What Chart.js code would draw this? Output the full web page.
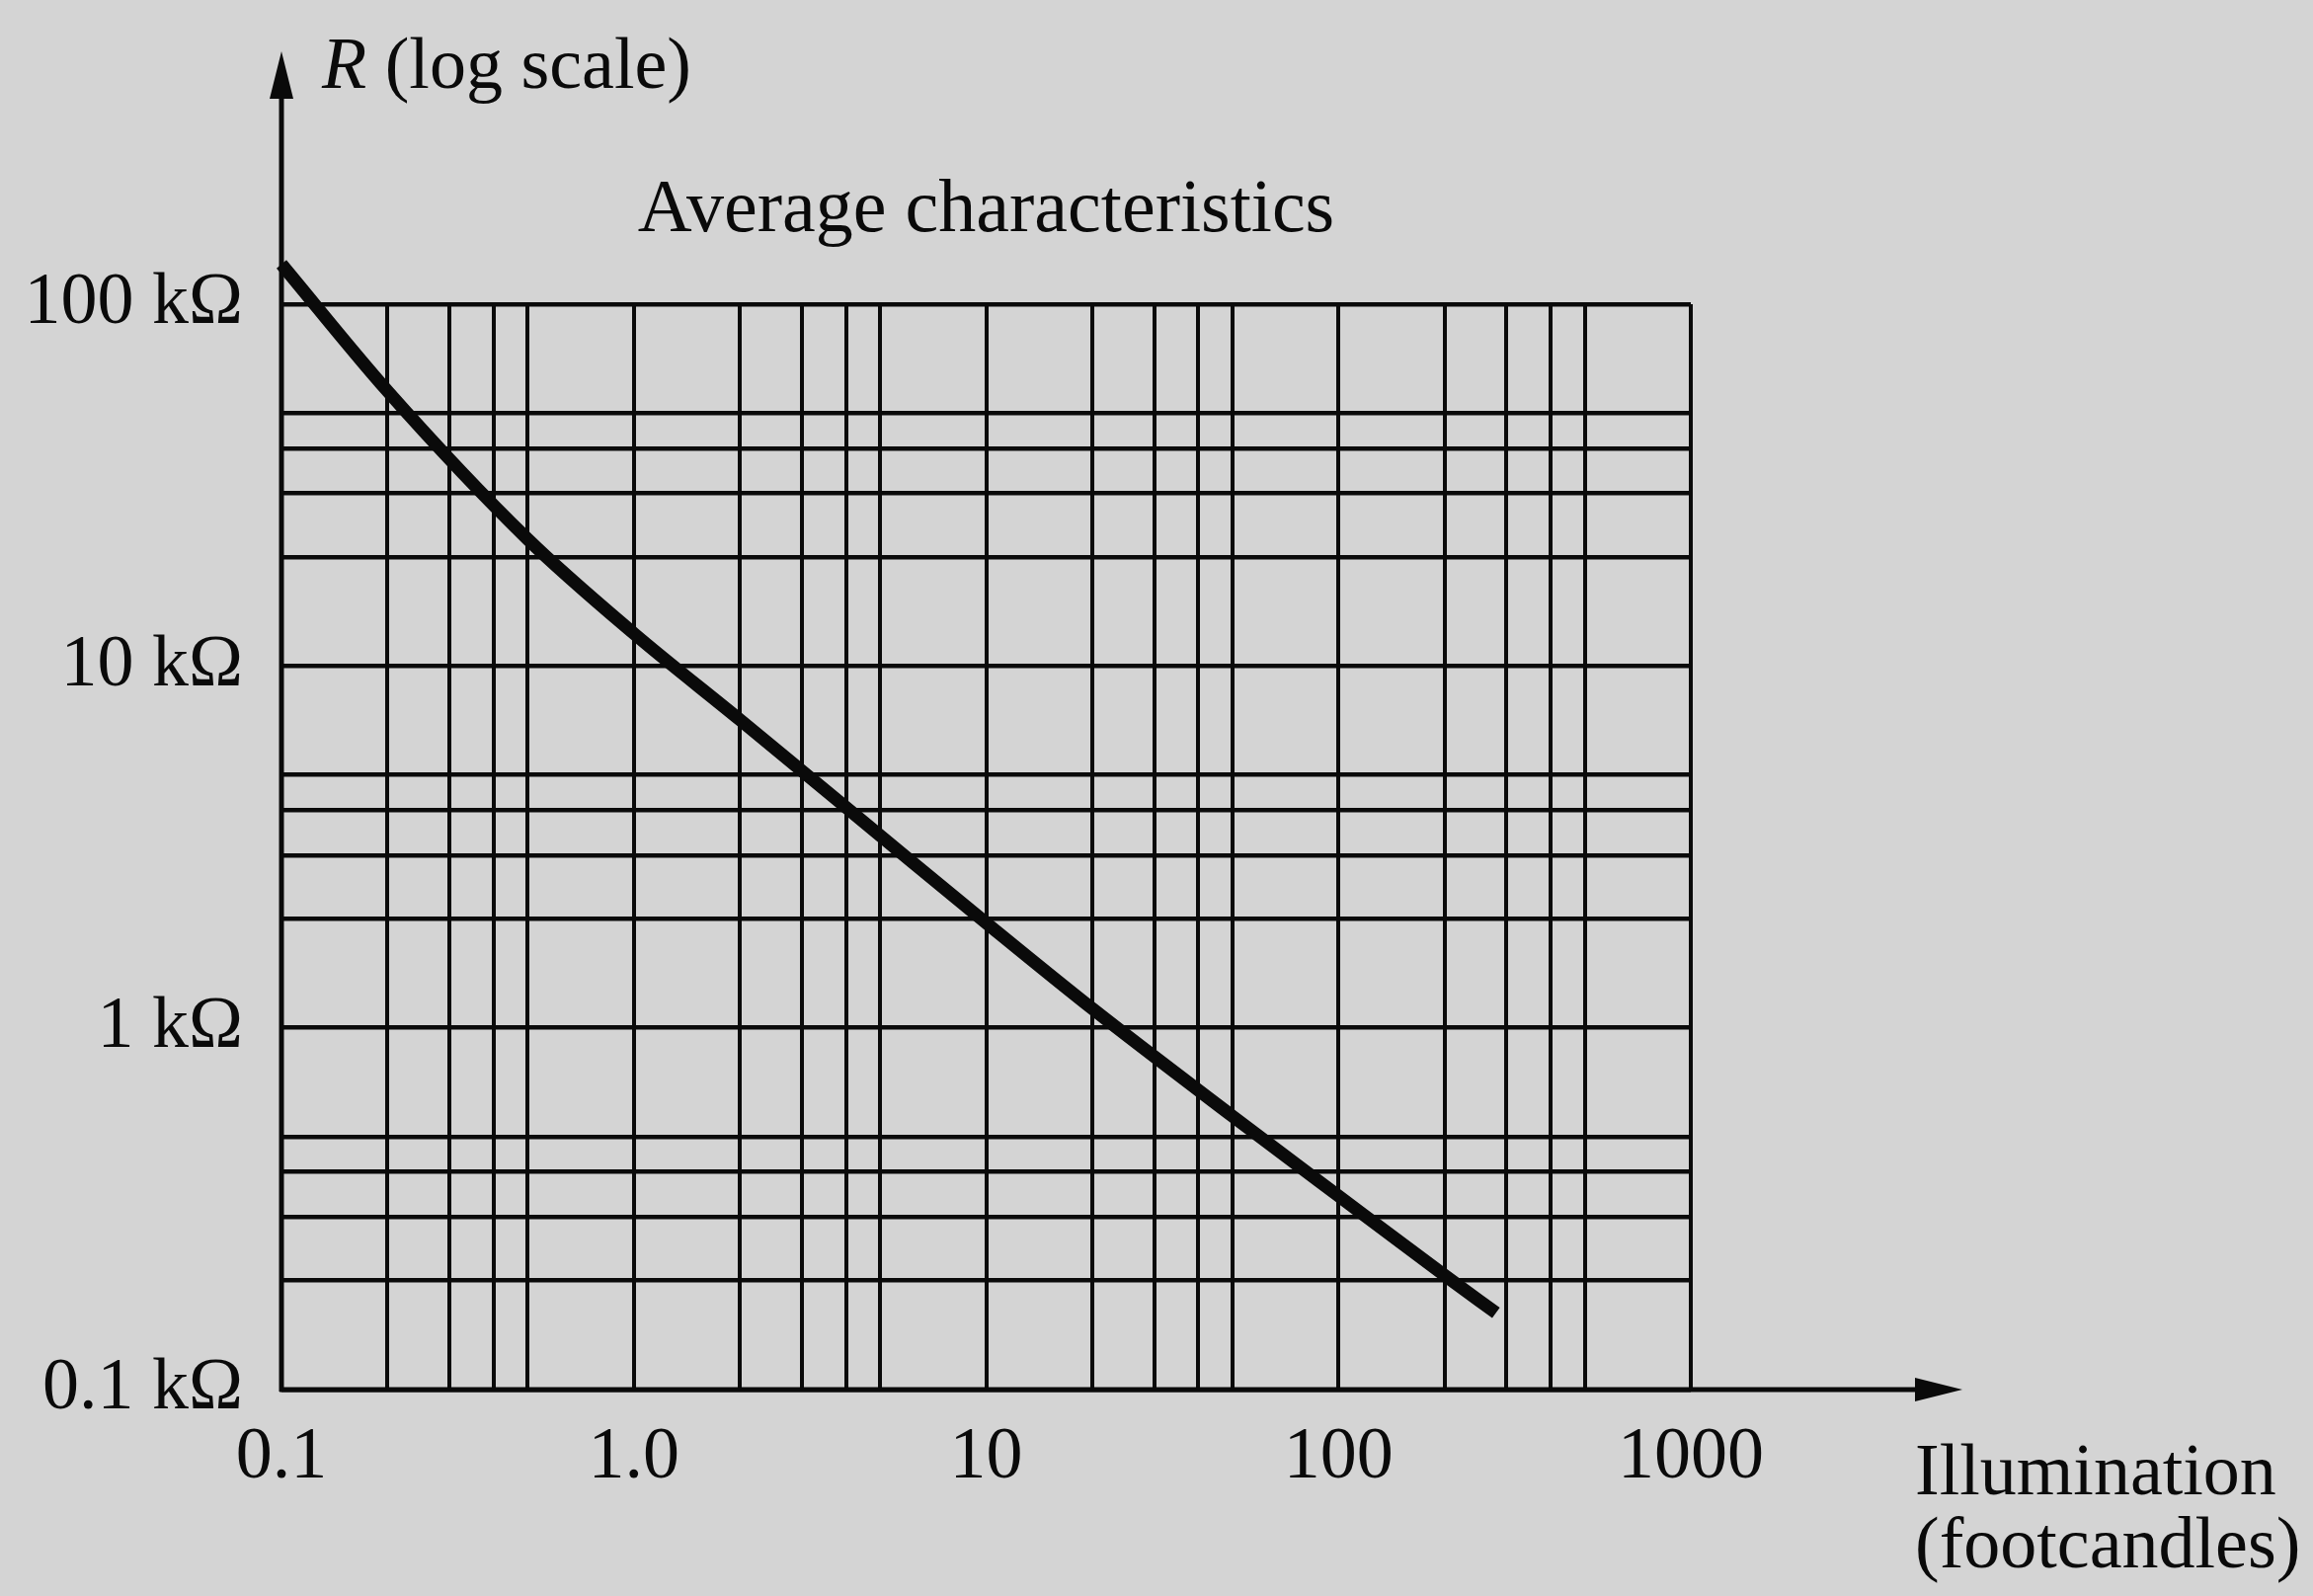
<!DOCTYPE html>
<html>
<head>
<meta charset="utf-8">
<script src="https://cdn.jsdelivr.net/npm/chart.js@4.4.1/dist/chart.umd.min.js"></script>
<style>
  html, body { margin: 0; padding: 0; background: #d4d4d4; }
  canvas { display: block; }
</style>
</head>
<body>
<canvas id="c" width="2342" height="1616"></canvas>
<script>
// ---- data ----
const illumination = [0.1, 0.2, 0.5, 1, 2, 5, 10, 20, 50, 100, 200, 280];
const resistanceK  = [129, 57.5, 22.4, 12.3, 7.1, 3.4, 1.95, 1.13, 0.57, 0.343, 0.207, 0.163];

const xGridValues = [0.1, 0.2, 0.3, 0.4, 0.5, 1, 2, 3, 4, 5, 10, 20, 30, 40, 50, 100, 200, 300, 400, 500, 1000];
const yGridValues = [0.1, 0.2, 0.3, 0.4, 0.5, 1, 2, 3, 4, 5, 10, 20, 30, 40, 50, 100];

const xLabelValues = [0.1, 1, 10, 100, 1000];
const xLabelTexts  = ['0.1', '1.0', '10', '100', '1000'];
const yLabelValues = [0.1, 1, 10, 100];
const yLabelTexts  = ['0.1 kΩ', '1 kΩ', '10 kΩ', '100 kΩ'];

const chartTitle  = 'Average characteristics';
const yAxisSymbol = 'R';
const yAxisText   = ' (log scale)';
const xAxisLines  = ['Illumination', '(footcandles)'];

// ---- styling ----
const FONT = '"Liberation Serif", "Times New Roman", serif';
const INK = '#0a0a0a';
const PAPER = '#d4d4d4';
const FS = 74;

function labelFor(values, texts, v) {
  for (let i = 0; i < values.length; i++) {
    if (Math.abs(values[i] - v) / values[i] < 1e-6) return texts[i];
  }
  return '';
}

const decor = {
  id: 'decor',
  beforeDraw(chart) {
    const { ctx, width, height } = chart;
    ctx.save();
    ctx.fillStyle = PAPER;
    ctx.fillRect(0, 0, width, height);
    ctx.restore();
  },
  afterDraw(chart) {
    const { ctx, chartArea: a, scales: { x, y } } = chart;
    const x0 = x.getPixelForValue(xGridValues[0]);
    const y0 = y.getPixelForValue(yGridValues[0]);
    const yTip = 52, xTip = 1987;
    ctx.save();
    ctx.strokeStyle = INK;
    ctx.fillStyle = INK;
    ctx.lineWidth = 5;
    ctx.lineCap = 'butt';
    // vertical axis with arrow
    ctx.beginPath(); ctx.moveTo(x0, y0 + 2); ctx.lineTo(x0, yTip + 30); ctx.stroke();
    ctx.beginPath(); ctx.moveTo(x0, yTip); ctx.lineTo(x0 - 12, yTip + 48); ctx.lineTo(x0 + 12, yTip + 48); ctx.closePath(); ctx.fill();
    // horizontal axis with arrow
    ctx.beginPath(); ctx.moveTo(x0 - 2, y0); ctx.lineTo(xTip - 30, y0); ctx.stroke();
    ctx.beginPath(); ctx.moveTo(xTip, y0); ctx.lineTo(xTip - 48, y0 - 12); ctx.lineTo(xTip - 48, y0 + 12); ctx.closePath(); ctx.fill();

    // texts
    ctx.textBaseline = 'middle';
    ctx.textAlign = 'left';
    ctx.font = `italic ${FS}px ${FONT}`;
    const rx = 326, ry = 70;
    ctx.fillText(yAxisSymbol, rx, ry);
    const rw = ctx.measureText(yAxisSymbol).width;
    ctx.font = `${FS}px ${FONT}`;
    ctx.fillText(yAxisText, rx + rw, ry);

    ctx.font = `76px ${FONT}`;
    ctx.textAlign = 'center';
    ctx.fillText(chartTitle, (a.left + a.right) / 2, 214);

    ctx.font = `${FS}px ${FONT}`;
    ctx.textAlign = 'left';
    ctx.fillText(xAxisLines[0], 1939, 1494);
    ctx.fillText(xAxisLines[1], 1939, 1568);
    ctx.restore();
  }
};

new Chart(document.getElementById('c'), {
  type: 'scatter',
  data: {
    datasets: [{
      data: illumination.map((v, i) => ({ x: v, y: resistanceK[i] })),
      showLine: true,
      borderColor: INK,
      borderWidth: 13,
      borderCapStyle: 'butt',
      borderJoinStyle: 'round',
      pointRadius: 0,
      cubicInterpolationMode: 'monotone',
      clip: false
    }]
  },
  options: {
    responsive: false,
    animation: false,
    devicePixelRatio: 1,
    layout: { padding: { left: 0, top: 308, right: 630, bottom: 0 } },
    plugins: { legend: { display: false }, tooltip: { enabled: false }, title: { display: false } },
    scales: {
      x: {
        type: 'logarithmic',
        min: 0.1, max: 1000,
        afterBuildTicks(scale) { scale.ticks = xGridValues.map(v => ({ value: v })); },
        afterFit(scale) { scale.height = 209; },
        ticks: {
          autoSkip: false, maxRotation: 0, minRotation: 0,
          padding: 25,
          color: INK,
          font: { family: FONT, size: FS },
          callback: (v) => labelFor(xLabelValues, xLabelTexts, v)
        },
        grid: { color: INK, lineWidth: 4, drawTicks: false },
        border: { display: false }
      },
      y: {
        type: 'logarithmic',
        min: 0.1, max: 100,
        afterBuildTicks(scale) { scale.ticks = yGridValues.map(v => ({ value: v })); },
        afterFit(scale) { scale.width = 285; },
        ticks: {
          autoSkip: false,
          padding: 39,
          color: INK,
          font: { family: FONT, size: FS },
          callback: (v) => labelFor(yLabelValues, yLabelTexts, v)
        },
        grid: { color: INK, lineWidth: 4.5, drawTicks: false },
        border: { display: false }
      }
    }
  },
  plugins: [decor]
});
</script>
</body>
</html>
